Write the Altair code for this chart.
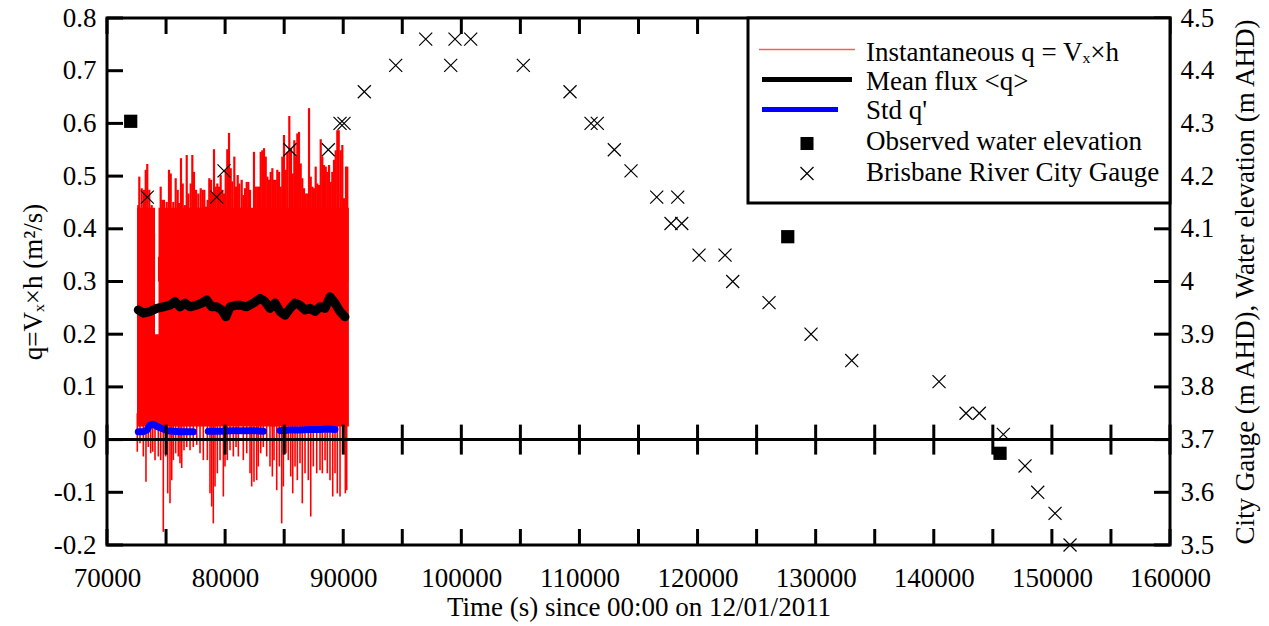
import altair as alt
import pandas as pd

# ---------------- data ----------------
# Instantaneous q: upper spike tips (time s, q m2/s)
up_t = [72650, 72735, 72940, 73130, 73280, 73410, 73580, 73785, 73980, 74405,
        74545, 74680, 74825, 75055, 75250, 75395, 75615, 75815, 75985, 76095,
        76265, 76410, 76605, 76750, 76885, 77085, 77225, 77365, 77535, 77730,
        77935, 78105, 78240, 78385, 78525, 78660, 78805, 78915, 79060, 79205,
        79340, 79485, 79625, 79765, 79905, 80050, 80185, 80330, 80475, 80610,
        80780, 80925, 81065, 81200, 81405, 81540, 81685, 81830, 81965, 82110,
        82305, 82445, 82590, 82725, 82870, 83015, 83150, 83295, 83440, 83575,
        83715, 83860, 84000, 84140, 84285, 84420, 84565, 84710, 84845, 84985,
        85130, 85265, 85435, 85580, 85725, 85860, 86005, 86115, 86255, 86400,
        86535, 86680, 86825, 86960, 87105, 87250, 87385, 87530, 87670, 87805,
        87950, 88095, 88230, 88375, 88520, 88655, 88800, 88940, 89075, 89220,
        89365, 89500, 89620, 89790, 89925, 90070, 90235, 90345]
up_q = [0.445, 0.499, 0.477, 0.474, 0.512, 0.523, 0.474, 0.445, 0.392, 0.347,
        0.480, 0.455, 0.455, 0.451, 0.512, 0.505, 0.451, 0.496, 0.474, 0.449,
        0.534, 0.486, 0.445, 0.540, 0.467, 0.486, 0.540, 0.508, 0.474, 0.467,
        0.477, 0.474, 0.474, 0.442, 0.455, 0.496, 0.493, 0.470, 0.551, 0.480,
        0.486, 0.480, 0.502, 0.474, 0.467, 0.512, 0.551, 0.582, 0.515, 0.490,
        0.537, 0.480, 0.502, 0.486, 0.493, 0.464, 0.477, 0.489, 0.489, 0.474,
        0.417, 0.546, 0.480, 0.480, 0.480, 0.546, 0.549, 0.553, 0.537, 0.499,
        0.493, 0.508, 0.515, 0.493, 0.493, 0.512, 0.508, 0.480, 0.537, 0.578,
        0.512, 0.546, 0.614, 0.553, 0.505, 0.568, 0.537, 0.581, 0.584, 0.524,
        0.496, 0.477, 0.467, 0.467, 0.629, 0.499, 0.480, 0.477, 0.518, 0.486,
        0.483, 0.570, 0.537, 0.521, 0.518, 0.508, 0.521, 0.489, 0.508, 0.531,
        0.549, 0.587, 0.587, 0.549, 0.559, 0.458, 0.518, 0.518]

# Instantaneous q: lower spike tips
dn_t = [72565, 72795, 73075, 73300, 73495, 73700, 73870, 74065, 74345, 74545,
        74765, 74970, 75140, 75335, 75480, 75615, 75815, 76035, 76180, 76325,
        76520, 76750, 77030, 77305, 77595, 77875, 78155, 78495, 78720, 78865,
        79000, 79145, 79340, 79570, 79850, 79990, 80185, 80415, 80695, 80925,
        81120, 81540, 81830, 82110, 82250, 82445, 82675, 82810, 83015, 83235,
        83520, 83800, 84000, 84140, 84370, 84590, 84790, 84930, 85155, 85350,
        85555, 85725, 85920, 86115, 86340, 86535, 86765, 87045, 87250, 87470,
        87755, 88035, 88230, 88460, 88655, 88880, 89110, 89305, 89500, 89730,
        89960, 90180, 90295]
dn_q = [-0.023, -0.007, -0.032, -0.080, -0.014, -0.026, -0.023, -0.039, -0.032, -0.039,
        -0.175, -0.032, -0.102, -0.121, -0.077, -0.039, -0.026, -0.032, -0.045, -0.054,
        -0.020, -0.014, -0.020, -0.014, -0.010, -0.026, -0.039, -0.039, -0.102, -0.127,
        -0.159, -0.089, -0.064, -0.039, -0.108, -0.051, -0.039, -0.020, -0.032, -0.014,
        -0.032, -0.039, -0.026, -0.064, -0.089, -0.080, -0.077, -0.051, -0.026, -0.014,
        -0.032, -0.051, -0.070, -0.039, -0.096, -0.051, -0.159, -0.089, -0.026, -0.039,
        -0.070, -0.102, -0.051, -0.077, -0.045, -0.121, -0.064, -0.077, -0.146, -0.051,
        -0.064, -0.058, -0.064, -0.039, -0.064, -0.077, -0.108, -0.064, -0.102, -0.108,
        -0.026, -0.102, -0.096]

# Instantaneous q: dense core band (step edges)
core_t = [72540, 74065, 74360, 90480]
core_hi = [0.44, 0.20, 0.44, 0.44]
core_lo = [0.025, 0.025, 0.025, 0.025]

# Mean flux <q>
mean_t = [72650, 73075, 73640, 74210, 74765, 75335, 75760, 76180, 76605, 77030,
          77595, 78020, 78440, 78865, 79290, 79710, 80075, 80415, 80980, 81260,
          81830, 82390, 82955, 83380, 83800, 84225, 84650, 85070, 85495, 85920,
          86340, 86765, 87190, 87615, 88035, 88460, 88880, 89305, 89730, 90150]
mean_q = [0.246, 0.240, 0.243, 0.249, 0.252, 0.255, 0.262, 0.252, 0.259, 0.252,
          0.255, 0.259, 0.265, 0.252, 0.252, 0.246, 0.233, 0.252, 0.255, 0.255,
          0.252, 0.259, 0.268, 0.262, 0.249, 0.259, 0.243, 0.236, 0.249, 0.259,
          0.255, 0.246, 0.249, 0.243, 0.252, 0.249, 0.271, 0.259, 0.243, 0.233]

# Std q'
std_t = [72650, 73050, 73385, 73640, 73920, 74235, 74655, 75080, 75590, 76180, 76775, 77310,
         78575, 79570, 80585, 81685, 82530, 83235,
         84650, 85495, 86340, 87190, 88035, 88715, 89305]
std_q = [0.015, 0.015, 0.018, 0.028, 0.029, 0.025, 0.021, 0.017, 0.016, 0.015, 0.015, 0.015,
         0.016, 0.016, 0.017, 0.017, 0.017, 0.016,
         0.017, 0.018, 0.018, 0.019, 0.019, 0.020, 0.019]
std_seg = [1] * 12 + [2] * 6 + [3] * 7

# Observed water elevation (m AHD)
obs_t = [72007, 127636, 145610]
obs_h = [4.304, 4.085, 3.674]

# Brisbane River City Gauge (m AHD)
gauge_t = [73412, 79288, 79907, 85495, 88738, 89729, 90068, 91786, 94444, 96984,
           99101, 99465, 100795, 105249, 109203, 110981, 111514, 112954, 114367, 116543,
           117754, 118321, 118660, 120125, 122326, 122978, 126052, 129608, 133054, 140445,
           142731, 143857, 145889, 147727, 148802, 150267, 151537]
gauge_h = [4.16, 4.16, 4.21, 4.25, 4.25, 4.30, 4.30, 4.36, 4.41, 4.46,
           4.41, 4.46, 4.46, 4.41, 4.36, 4.30, 4.30, 4.25, 4.21, 4.16,
           4.11, 4.16, 4.11, 4.05, 4.05, 4.00, 3.96, 3.90, 3.85, 3.81,
           3.75, 3.75, 3.71, 3.65, 3.60, 3.56, 3.50]

# axis ticks / labels
x_ticks = [70000, 75000, 80000, 85000, 90000, 95000, 100000, 105000, 110000, 115000,
           120000, 125000, 130000, 135000, 140000, 145000, 150000, 155000, 160000]
x_labels = [70000, 80000, 90000, 100000, 110000, 120000, 130000, 140000, 150000, 160000]
yl_ticks = [-0.2, -0.1, 0.0, 0.1, 0.2, 0.3, 0.4, 0.5, 0.6, 0.7, 0.8]
yr_ticks = [3.5, 3.6, 3.7, 3.8, 3.9, 4.0, 4.1, 4.2, 4.3, 4.4, 4.5]

legend_labels = ["Instantaneous q = Vₓ×h", "Mean flux <q>", "Std q'",
                 "Observed water elevation", "Brisbane River City Gauge"]

# ---------------- chart ----------------
W, H = 1063, 527
FONT = "'Liberation Serif', 'Times New Roman', Times, 'DejaVu Serif', serif"
FS = 27
ZERO_PX = H * 0.8
TL = 16
CROSS = "M-1,-1L1,1M-1,1L1,-1"

xscale = alt.Scale(domain=[70000, 160000], nice=False, zero=False)
yl = alt.Scale(domain=[-0.2, 0.8], nice=False, zero=False)
yr = alt.Scale(domain=[3.5, 4.5], nice=False, zero=False)

x_axis = alt.Axis(values=x_labels, format="d", ticks=False, domain=False, grid=False,
                  labelFont=FONT, labelFontSize=FS, labelColor="black", labelPadding=20,
                  labelFlush=False, labelOverlap=False,
                  title="Time (s) since 00:00 on 12/01/2011", titleFont=FONT,
                  titleFontSize=FS, titleFontWeight="normal", titleColor="black",
                  titleY=70, titleBaseline="alphabetic")
left_axis = alt.Axis(values=yl_ticks, ticks=False, domain=False, grid=False,
                     labelExpr="datum.value == 0 ? '0' : (datum.value < 0 ? '-' : '') + format(abs(datum.value), '.1f')",
                     labelFont=FONT, labelFontSize=FS, labelColor="black", labelPadding=11,
                     labelFlush=False, labelOverlap=False,
                     title="q=Vₓ×h (m²/s)", titleFont=FONT, titleFontSize=FS,
                     titleFontWeight="normal", titleColor="black", titleAngle=270,
                     titleX=-74, titleY=H / 2, titleAlign="center", titleBaseline="middle")
right_axis = alt.Axis(orient="right", values=yr_ticks, ticks=False, domain=False, grid=False,
                      labelExpr="format(datum.value, '~g')",
                      labelFont=FONT, labelFontSize=FS, labelColor="black", labelPadding=10,
                      labelFlush=False, labelOverlap=False,
                      title="City Gauge (m AHD), Water elevation (m AHD)", titleFont=FONT,
                      titleFontSize=FS, titleFontWeight="normal", titleColor="black",
                      titleAngle=270, titleX=75, titleY=H / 2, titleAlign="center",
                      titleBaseline="middle")


def X(f):
    return alt.X(f, type="quantitative", scale=xscale, axis=x_axis)


def YL(f, axis=None):
    return alt.Y(f, type="quantitative", scale=yl, axis=axis)


core_df = pd.DataFrame({"t": core_t, "hi": core_hi, "lo": core_lo})
up_df = pd.DataFrame({"t": up_t, "q": up_q})
dn_df = pd.DataFrame({"t": dn_t, "q": dn_q})
mean_df = pd.DataFrame({"t": mean_t, "q": mean_q})
std_df = pd.DataFrame({"t": std_t, "q": std_q, "seg": std_seg})
obs_df = pd.DataFrame({"t": obs_t, "h": obs_h})
gauge_df = pd.DataFrame({"t": gauge_t, "h": gauge_h})
xt_df = pd.DataFrame({"t": x_ticks})
yt_df = pd.DataFrame({"v": yl_ticks})
zero_df = pd.DataFrame({"v": [0.0]})
one = pd.DataFrame({"k": [0]})

RED = "#ff0000"

core = alt.Chart(core_df).mark_area(color=RED, interpolate="step-after", opacity=1).encode(
    x=X("t"), y=YL("hi", left_axis), y2="lo")
ups = alt.Chart(up_df).mark_rule(color=RED, strokeWidth=2.2).encode(
    x=X("t"), y=YL("q"), y2=alt.datum(0.3))
dns = alt.Chart(dn_df).mark_rule(color=RED, strokeWidth=1.6).encode(
    x=X("t"), y=YL("q"), y2=alt.datum(0.05))
mean = alt.Chart(mean_df).mark_line(color="black", strokeWidth=9, strokeJoin="round",
                                    strokeCap="round").encode(x=X("t"), y=YL("q"))
std = alt.Chart(std_df).mark_line(color="#0000ff", strokeWidth=7, strokeCap="round",
                                  strokeJoin="round").encode(
    x=X("t"), y=YL("q"), detail="seg:N")
zero = alt.Chart(zero_df).mark_rule(color="black", strokeWidth=3).encode(y=YL("v"))
zero_ticks = alt.Chart(xt_df).mark_rule(color="black", strokeWidth=3).encode(
    x=X("t"), y=alt.value(ZERO_PX - 15), y2=alt.value(ZERO_PX + 15))
bot_ticks = alt.Chart(xt_df).mark_rule(color="black", strokeWidth=3).encode(
    x=X("t"), y=alt.value(H), y2=alt.value(H - TL))
top_ticks = alt.Chart(xt_df).mark_rule(color="black", strokeWidth=3).encode(
    x=X("t"), y=alt.value(0), y2=alt.value(TL))
left_ticks = alt.Chart(yt_df).mark_rule(color="black", strokeWidth=3).encode(
    y=YL("v"), x=alt.value(0), x2=alt.value(TL))
right_ticks = alt.Chart(yt_df).mark_rule(color="black", strokeWidth=3).encode(
    y=YL("v"), x=alt.value(W - TL), x2=alt.value(W))
gauge = alt.Chart(gauge_df).mark_point(shape=CROSS, filled=False, color="black",
                                       strokeWidth=1.2, size=170, opacity=1).encode(
    x=X("t"), y=alt.Y("h", type="quantitative", scale=yr, axis=right_axis))
obs = alt.Chart(obs_df).mark_square(color="black", size=175, opacity=1).encode(
    x=X("t"), y=alt.Y("h", type="quantitative", scale=yr, axis=None))

# legend box (drawn by hand, top-right inside the frame)
leg = [alt.Chart(one).mark_rect(fill="white", stroke="black", strokeWidth=3).encode(
    x=alt.value(641), x2=alt.value(W), y=alt.value(0), y2=alt.value(185))]
leg.append(alt.Chart(one).mark_rule(color="#ff5a5a", strokeWidth=1.3).encode(
    x=alt.value(652), x2=alt.value(748), y=alt.value(31.5)))
leg.append(alt.Chart(one).mark_rule(color="black", strokeWidth=5).encode(
    x=alt.value(655), x2=alt.value(745), y=alt.value(61.5)))
leg.append(alt.Chart(one).mark_rule(color="#0000ff", strokeWidth=5).encode(
    x=alt.value(655), x2=alt.value(731), y=alt.value(91.5)))
leg.append(alt.Chart(one).mark_square(color="black", size=170, opacity=1).encode(
    x=alt.value(700), y=alt.value(125.5)))
leg.append(alt.Chart(one).mark_point(shape=CROSS, filled=False, color="black",
                                     strokeWidth=1.2, size=170, opacity=1).encode(
    x=alt.value(700), y=alt.value(155.5)))
for lab, yb in zip(legend_labels, [42.5, 71.5, 100.5, 132, 162.5]):
    leg.append(alt.Chart(one).mark_text(text=lab, align="left", baseline="alphabetic",
                                        font=FONT, fontSize=FS, color="black").encode(
        x=alt.value(759), y=alt.value(yb)))

chart = alt.layer(core, ups, dns, mean, std, zero, zero_ticks, bot_ticks, top_ticks,
                  left_ticks, right_ticks, gauge, obs, *leg).resolve_scale(
    y="independent").properties(
    width=W, height=H,
    padding={"left": 107, "top": 18, "right": 99, "bottom": 81},
    autosize=alt.AutoSizeParams(type="none"),
    background="white",
).configure_view(stroke="black", strokeWidth=3)

chart.save("out.html", embed_options={"renderer": "svg", "actions": False})
